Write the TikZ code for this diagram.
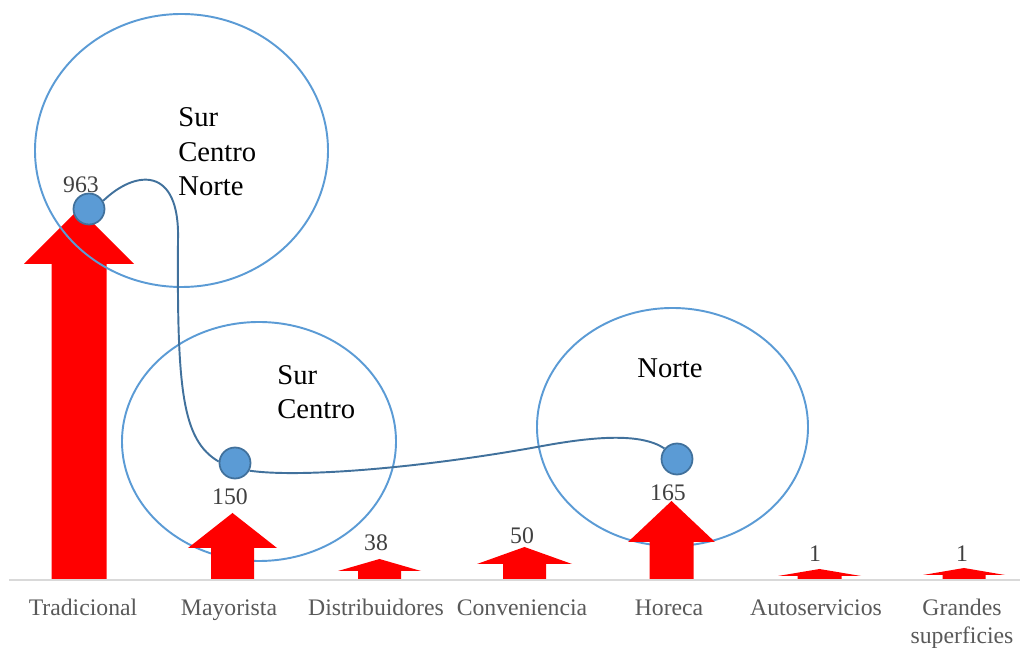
\documentclass[tikz,border=0pt]{standalone}
\usepackage{fontspec}
\setmainfont{Liberation Serif}
\usetikzlibrary{arrows}
\definecolor{ringblue}{HTML}{5B9BD5}
\definecolor{linkblue}{HTML}{41719C}
\definecolor{axisgray}{HTML}{D9D9D9}
\definecolor{catgray}{HTML}{595959}
\definecolor{valgray}{HTML}{404040}

\begin{document}
\begin{tikzpicture}[x=0.02cm, y=-0.02cm]
	\tikzstyle{region} = [draw=ringblue, line width=1.1pt]
	\tikzstyle{dot} = [draw=linkblue, fill=ringblue, line width=1pt, circle, minimum size=0.62cm, inner sep=0pt]
	\tikzstyle{link} = [draw=linkblue, line width=1.1pt]
	\tikzstyle{bar} = [fill=red]
	\tikzstyle{catlabel} = [text=catgray, font=\fontsize{13.5}{15.4}\selectfont, inner sep=0pt, anchor=base]
	\tikzstyle{vallabel} = [text=valgray, font=\fontsize{13.5}{15.4}\selectfont, inner sep=0pt]
	\tikzstyle{zonelabel} = [font=\fontsize{16.3}{19.6}\selectfont, align=left, anchor=west, inner sep=0pt]
	\useasboundingbox (0,0) rectangle (1022,648);
	\begin{scope}
	  % lower rings
	  \draw[region] (259,441.5) ellipse [x radius=137, y radius=119.5];
	  \draw[region] (672.5,427) ellipse [x radius=135.5, y radius=119];
	  % axis
	  \draw[axisgray, line width=1.2pt] (9,580) -- (1020,580);
	  % block arrows
	  \foreach \cx/\tip/\neck/\hw/\sw in {79/209/264/55/27.5, 232.5/513/548/44.5/21.5,
	      379.5/559/571/41.5/21.5, 524.5/547/564/47.5/21.5, 671.5/501/542/43.5/22,
	      819.5/569/576/41.5/22, 964/568/575/41/21.5}
	    \fill[bar] (\cx-\sw,579) -- (\cx-\sw,\neck) -- (\cx-\hw,\neck) -- (\cx,\tip)
	      -- (\cx+\hw,\neck) -- (\cx+\sw,\neck) -- (\cx+\sw,579) -- cycle;
	  % upper ring
	  \draw[region] (181.5,150.5) ellipse [x radius=146.5, y radius=136.5];
	\end{scope}
	\begin{scope}
	  \path
	  node[dot] (d1) at (89,209) {}
	  node[dot] (d2) at (235,463) {}
	  node[dot] (d3) at (677,459) {};
	  \draw[link] (d1.30) .. controls (135,170) and (180,165) .. (178,240)
	    .. controls (177,390) and (182,440) .. (d2.175);
	  \draw[link] (d2.-28) .. controls (300,478) and (420,468) .. (537,447)
	    .. controls (590,437) and (640,432) .. (d3.140);
	\end{scope}
	\path
	node[zonelabel] (scn) at (178,152) {Sur\\Centro\\Norte}
	node[zonelabel] (sc) at (277,392) {Sur\\Centro}
	node[font=\fontsize{16.3}{19.6}\selectfont, inner sep=0pt] (n) at (670,368) {Norte}
	node[vallabel] (v1) at (81,185) {963}
	node[vallabel] (v2) at (230,497) {150}
	node[vallabel] (v3) at (376,543) {38}
	node[vallabel] (v4) at (522,536) {50}
	node[vallabel] (v5) at (668,493) {165}
	node[vallabel] (v6) at (815,554) {1}
	node[vallabel] (v7) at (962,554) {1}
	node[catlabel] (c1) at (83,616) {Tradicional}
	node[catlabel] (c2) at (229,616) {Mayorista}
	node[catlabel] (c3) at (376,616) {Distribuidores}
	node[catlabel] (c4) at (522,616) {Conveniencia}
	node[catlabel] (c5) at (669,616) {Horeca}
	node[catlabel] (c6) at (816,616) {Autoservicios}
	node[catlabel, align=center] (c7) at (962,643) {Grandes\\superficies};
\end{tikzpicture}
\end{document}
